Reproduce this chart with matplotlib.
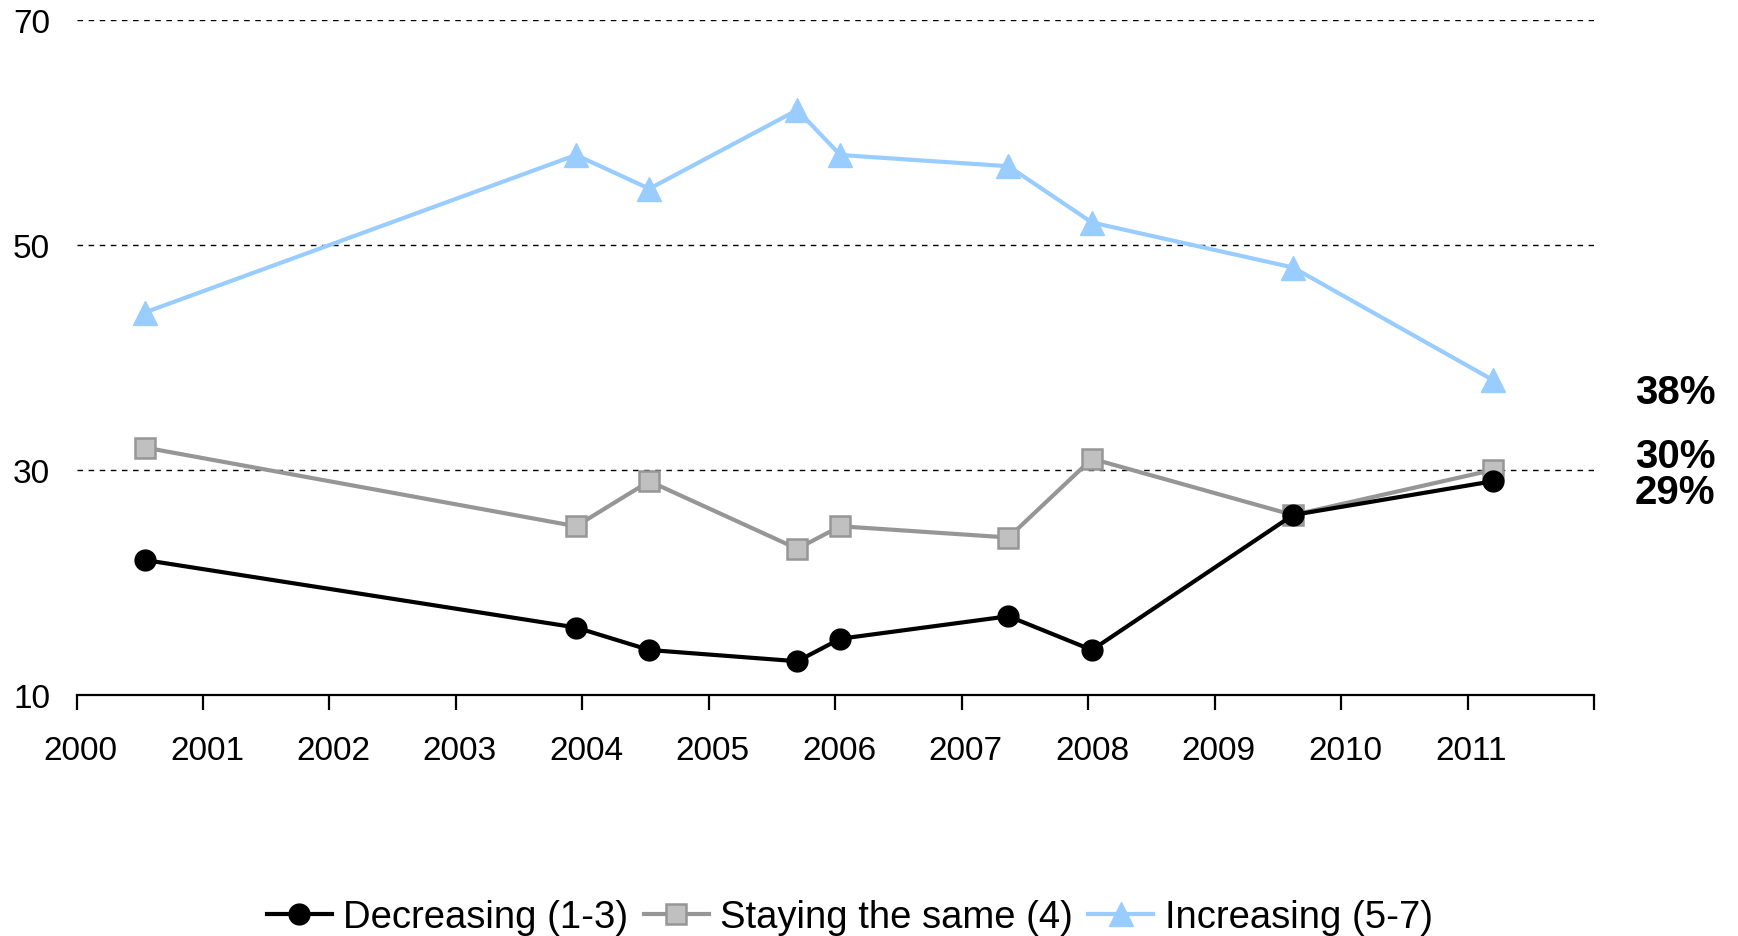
import matplotlib
matplotlib.use("Agg")
import matplotlib.pyplot as plt
import matplotlib.transforms as mtransforms

plt.rcParams['font.family'] = ['Liberation Sans', 'DejaVu Sans']

# Survey dates (decimal years)
dates = [2000.54, 2003.95, 2004.53, 2005.70, 2006.04, 2007.37, 2008.03, 2009.62, 2011.20]
decreasing = [22, 16, 14, 13, 15, 17, 14, 26, 29]
staying = [32, 25, 29, 23, 25, 24, 31, 26, 30]
increasing = [44, 58, 55, 62, 58, 57, 52, 48, 38]
series_names = ["Decreasing (1-3)", "Staying the same (4)", "Increasing (5-7)"]
year_ticks = list(range(2000, 2013))
year_labels = [str(y) for y in range(2000, 2012)] + [""]
y_ticks = [10, 30, 50, 70]

fig = plt.figure(figsize=(17.38, 9.37), dpi=100)
ax = fig.add_axes([76.5 / 1738, 1 - 696 / 937, (1594 - 76.5) / 1738, (696 - 21) / 937])

ax.plot(dates, decreasing, color='black', lw=3.0, marker='o', ms=15,
        mfc='black', mec='black', label=series_names[0], clip_on=False, zorder=4)
ax.plot(dates, staying, color='#969696', lw=3.0, marker='s', ms=14,
        mfc='#C0C0C0', mec='#969696', mew=1.8, label=series_names[1], clip_on=False, zorder=3)
ax.plot(dates, increasing, color='#99CCFF', lw=3.0, marker='^', ms=17,
        mfc='#99CCFF', mec='#99CCFF', label=series_names[2], clip_on=False, zorder=3)

ax.set_xlim(2000, 2012)
ax.set_ylim(10, 70)
ax.set_xticks(year_ticks)
ax.set_xticklabels(year_labels)
ax.set_yticks(y_ticks)

for s in ['top', 'right', 'left']:
    ax.spines[s].set_visible(False)
ax.spines['bottom'].set_linewidth(1.6)
ax.tick_params(axis='x', direction='out', length=11, width=1.6, pad=18, labelsize=24)
ax.tick_params(axis='y', length=0, pad=19, labelsize=24)
offset = mtransforms.ScaledTranslation(4 / 100, 0, fig.dpi_scale_trans)
for lbl in ax.get_xticklabels():
    lbl.set_transform(lbl.get_transform() + offset)

ax.yaxis.grid(True, linestyle=(0, (4, 4)), color='black', lw=1.0)
ax.set_axisbelow(True)

# End labels
last_vals = [increasing[-1], staying[-1], decreasing[-1]]
label_y = [36.9, 31.2, 28.0]
trans = mtransforms.blended_transform_factory(ax.transAxes, ax.transData)
for v, yy in zip(last_vals, label_y):
    ax.text(1.027, yy, f"{v}%", transform=trans, fontsize=29, fontweight='bold',
            ha='left', va='center')

fig.legend(loc='center', bbox_to_anchor=(0.489, 0.02), ncol=3, frameon=False,
           fontsize=27.5, handlelength=1.7, handletextpad=0.3, columnspacing=0.4,
           borderpad=0, borderaxespad=0)

fig.savefig("out.png", dpi=100)
